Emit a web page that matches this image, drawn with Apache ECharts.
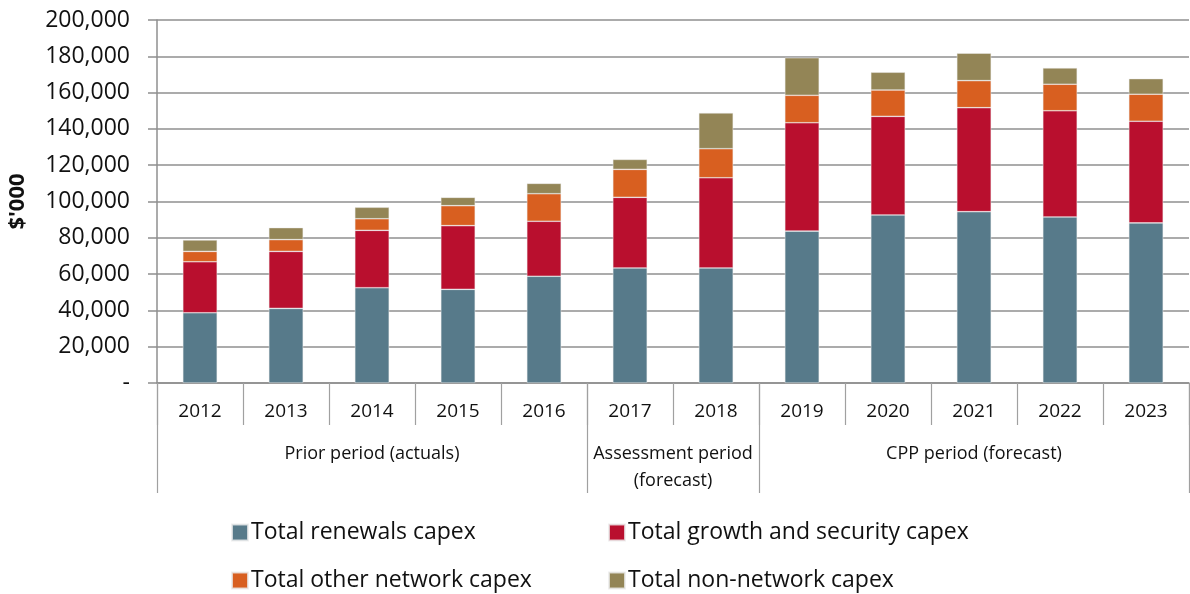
<!DOCTYPE html>
<html>
<head>
<meta charset="utf-8">
<script src="https://cdn.jsdelivr.net/npm/echarts@6/dist/echarts.min.js"></script>
<style>
  html, body { margin: 0; padding: 0; background: #fff; }
  #char { width: 1190px; height: 594px; }
</style>
</head>
<body>
<div id="char"></div>
<script>
// values in $'000
var years = ["2012", "2013", "2014", "2015", "2016", "2017", "2018", "2019", "2020", "2021", "2022", "2023"];
var renewals = [38700, 41100, 52500, 51600, 58800, 63400, 63400, 83700, 92600, 94400, 91500, 88200];
var growthSecurity = [28100, 31400, 31600, 35100, 30300, 38900, 49700, 59700, 54300, 57300, 58500, 56000];
var otherNetwork = [5700, 6500, 6400, 11000, 15200, 15400, 16000, 15100, 14500, 14900, 14600, 14900];
var nonNetwork = [6300, 6600, 6300, 4600, 5700, 5500, 19700, 20700, 9800, 15100, 9000, 8600];

// period groups along the bottom (boundaries counted in categories)
var groupLabels = ["Prior period (actuals)", "Assessment period\n(forecast)", "CPP period (forecast)"];
var groupBounds = [0, 5, 7, 12];

var seriesNames = ["Total renewals capex", "Total growth and security capex", "Total other network capex", "Total non-network capex"];
var colors = ["#577a8a", "#b90f2e", "#d85f20", "#938556"];

var font = "'Open Sans', 'Noto Sans', sans-serif";
var gridColor = "#8f8f8f";

var groupMids = [];
for (var i = 0; i < groupLabels.length; i++) {
  groupMids.push((groupBounds[i] + groupBounds[i + 1]) / 2);
}

function bar(name, data, idx) {
  return {
    name: name,
    type: "bar",
    stack: "capex",
    barWidth: "40%",
    data: data,
    itemStyle: {
      color: colors[idx],
      borderColor: "rgba(235,235,235,0.8)",
      borderWidth: 0.6
    }
  };
}

function legendItem(name, left, top) {
  return {
    data: [name],
    left: left,
    top: top,
    icon: "rect",
    itemWidth: 16,
    itemHeight: 16,
    padding: 0,
    textStyle: { fontFamily: font, fontSize: 23, color: "#111", padding: [0, 0, 0, -2] }
  };
}

var myChart = echarts.init(document.getElementById("char"));
var option = {
  animation: false,
  color: colors,
  grid: {
    left: 157,
    right: 1,
    top: 20,
    bottom: 211,
    outerBoundsMode: "none",
    containLabel: false
  },
  legend: [
    legendItem(seriesNames[0], 231, 521),
    legendItem(seriesNames[1], 608, 521),
    legendItem(seriesNames[2], 231, 569),
    legendItem(seriesNames[3], 608, 569)
  ],
  xAxis: [
    {
      type: "category",
      data: years,
      position: "bottom",
      axisLine: { lineStyle: { color: gridColor, width: 1.5 } },
      axisTick: { show: true, interval: 0, length: 42, lineStyle: { color: "#a0a0a0", width: 1.2 } },
      axisLabel: { interval: 0, margin: 19, fontFamily: font, fontSize: 19, color: "#111" },
      splitLine: { show: false }
    },
    {
      type: "value",
      min: groupBounds[0],
      max: groupBounds[groupBounds.length - 1],
      position: "bottom",
      axisLine: { show: false },
      splitLine: { show: false },
      axisTick: {
        show: true,
        customValues: groupBounds,
        length: 110,
        lineStyle: { color: "#a0a0a0", width: 1.2 }
      },
      axisLabel: {
        customValues: groupMids,
        margin: 57,
        lineHeight: 27,
        fontFamily: font,
        fontSize: 18,
        color: "#111",
        formatter: function (v) {
          var k = groupMids.indexOf(v);
          return k >= 0 ? groupLabels[k] : "";
        }
      }
    }
  ],
  yAxis: {
    type: "value",
    min: 0,
    max: 200000,
    interval: 20000,
    name: "$'000",
    nameLocation: "middle",
    nameRotate: 90,
    nameGap: 128,
    nameTextStyle: { fontFamily: font, fontSize: 22, fontWeight: "bold", color: "#111" },
    axisLine: { show: true, lineStyle: { color: gridColor, width: 1.5 } },
    axisTick: { show: true, length: 9, lineStyle: { color: gridColor, width: 1.5 } },
    axisLabel: {
      margin: 27,
      fontFamily: font,
      fontSize: 23,
      color: "#111",
      formatter: function (v) {
        return v === 0 ? "-" : v.toLocaleString("en-US");
      }
    },
    splitLine: { show: true, lineStyle: { color: gridColor, width: 1.5 } }
  },
  series: [
    bar(seriesNames[0], renewals, 0),
    bar(seriesNames[1], growthSecurity, 1),
    bar(seriesNames[2], otherNetwork, 2),
    bar(seriesNames[3], nonNetwork, 3)
  ]
};
myChart.setOption(option);
</script>
</body>
</html>
